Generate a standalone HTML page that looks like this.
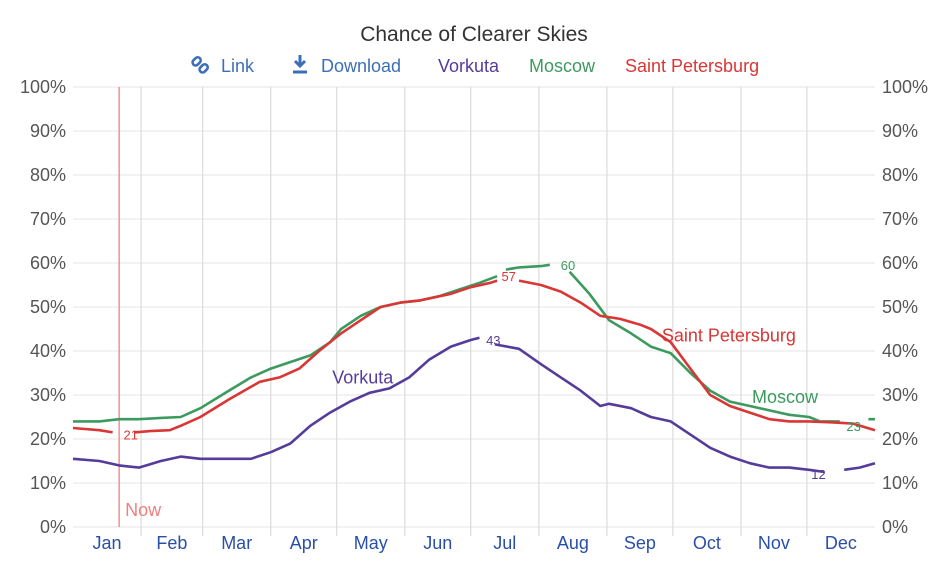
<!DOCTYPE html>
<html><head><meta charset="utf-8"><style>
body{margin:0;background:#fff;font-family:"Liberation Sans",sans-serif}
</style></head><body>
<svg id="chart" width="934" height="562" xmlns="http://www.w3.org/2000/svg" font-family="Liberation Sans, sans-serif">
<text x="474" y="41" text-anchor="middle" font-size="21" fill="#333">Chance of Clearer Skies</text>
<g>
<g fill="none" stroke="#3d6fb8" stroke-width="2.6"><rect x="192" y="58" width="9" height="6" rx="3" transform="rotate(-45 197 61)"/><rect x="199" y="65" width="9" height="6" rx="3" transform="rotate(-45 204 68)"/></g>
<text x="221" y="72" font-size="18" fill="#3d6fb8">Link</text></g>
<g>
<path d="M300 55v11M295 61l5 5 5-5M293 72h14" stroke="#3d6fb8" stroke-width="3" fill="none"/>
<text x="321" y="72" font-size="18" fill="#3d6fb8">Download</text></g>
<text x="438" y="72" font-size="18" fill="#553c9a">Vorkuta</text>
<text x="529" y="72" font-size="18" fill="#3c9a5f">Moscow</text>
<text x="625" y="72" font-size="18" fill="#d93636">Saint Petersburg</text>
<g id="grid"></g><g id="marks"></g>
</svg>
<script>
const monthNames=["Jan","Feb","Mar","Apr","May","Jun","Jul","Aug","Sep","Oct","Nov","Dec"];
const monthStarts=[0,31,59,90,120,151,181,212,243,273,304,334,365];
const yTicks=[0,10,20,30,40,50,60,70,80,90,100];
const nowDay=21;
const moscowDays=[0,12,21,30,40,49,58,71,81,90,99,108,117,122,131,140,149,158,167,176,185,193,null,197,203,213,217,null,226,235,244,254,263,272,281,290,299,308,317,326,335,340,349,null,362,365];
const moscowVals=[24,24,24.5,24.5,24.8,25,27,31,34,36,37.5,39,42,45,48,50,51,51.5,52.5,54,55.5,57,null,58.5,59,59.3,59.6,null,58,53,47,44,41,39.5,35,31,28.5,27.5,26.5,25.5,25,24,24,null,24.5,24.5];
const spbDays=[0,12,18,null,28,35,44,49,58,71,85,94,103,112,122,131,140,149,158,172,181,190,193,null,203,213,222,231,240,249,258,263,272,281,290,299,308,317,326,335,345,355,365];
const spbVals=[22.5,22,21.5,null,21.5,21.8,22,23,25,29,33,34,36,40,44,47,50,51,51.5,53,54.5,55.5,56,null,56,55,53.5,51,48,47.3,46,45,42,36,30,27.5,26,24.5,24,24,23.8,23.5,22];
const vorkutaDays=[0,12,21,30,40,49,58,71,81,90,99,108,117,126,135,144,153,162,172,181,185,null,192,203,213,222,231,240,244,254,263,272,281,290,299,308,317,326,335,342,null,351,358,365];
const vorkutaVals=[15.5,15,14,13.5,15,16,15.5,15.5,15.5,17,19,23,26,28.5,30.5,31.5,34,38,41,42.5,43,null,41.5,40.5,37,34,31,27.5,28,27,25,24,21,18,16,14.5,13.5,13.5,13,12.5,null,13,13.5,14.5];
const labels=[{t:"21",d:23,v:21,c:"#d93636",s:13},{t:"57",d:195,v:57,c:"#d93636",s:13},{t:"60",d:222,v:59.5,c:"#3c9a5f",s:13},{t:"43",d:188,v:42.5,c:"#553c9a",s:13},{t:"12",d:336,v:12,c:"#553c9a",s:13},{t:"23",d:352,v:23,c:"#3c9a5f",s:13},
{t:"Saint Petersburg",d:268,v:43.5,c:"#d93636",s:18},{t:"Moscow",d:309,v:29.5,c:"#3c9a5f",s:18},{t:"Vorkuta",d:118,v:34,c:"#553c9a",s:18}];
const X0=73,X1=875,Y0=527,Y1=87;
const xs=d=>X0+d*(X1-X0)/365, ys=v=>Y0-v*(Y0-Y1)/100;
const NS="http://www.w3.org/2000/svg";
const grid=document.getElementById('grid'),marks=document.getElementById('marks');
function mk(tag,attrs,parent){const e=document.createElementNS(NS,tag);for(const k in attrs)e.setAttribute(k,attrs[k]);parent.appendChild(e);return e;}
yTicks.forEach(t=>{
 const l=mk('line',{x1:X0,x2:X1,y1:ys(t),y2:ys(t),stroke:'#e6e6e6','stroke-width':1},grid);
 
 
 [[66,'end'],[882,'start']].forEach(([x,a])=>{
  const tx=mk('text',{x:x,y:ys(t)+6,'text-anchor':a,'font-size':18,fill:'#555'},grid);tx.textContent=t+'%';
  
  
 });
});
monthStarts.slice(1,12).forEach(d=>{
 const l=mk('line',{x1:xs(d),x2:xs(d),y1:Y1,y2:Y0+9,stroke:'#ddd','stroke-width':1.3},grid);
 
 
});
monthNames.forEach((m,i)=>{
 const tx=mk('text',{x:xs((monthStarts[i]+monthStarts[i+1])/2),y:549,'text-anchor':'middle','font-size':18,fill:'#2a4fa8'},grid);tx.textContent=m;
 
 
});
const nl=mk('line',{x1:xs(nowDay),x2:xs(nowDay),y1:Y1,y2:Y0,stroke:'#f08080','stroke-width':1.3},marks);


const nt=mk('text',{x:xs(nowDay)+6,y:516,'font-size':18,fill:'#f08080'},marks);nt.textContent='Now';


function series(days,vals,color,name){
 let d='',pen=false;
 days.forEach((dy,i)=>{if(dy===null||vals[i]===null){pen=false;return;}d+=(pen?'L':'M')+xs(dy).toFixed(1)+' '+ys(vals[i]).toFixed(1);pen=true;});
 const p=mk('path',{d:d,fill:'none',stroke:color,'stroke-width':2.6,'stroke-linejoin':'round'},marks);
 
 
}
series(moscowDays,moscowVals,'#3c9a5f','moscow-line');
series(spbDays,spbVals,'#d93636','saint-petersburg-line');
series(vorkutaDays,vorkutaVals,'#553c9a','vorkuta-line');
labels.forEach(l=>{
 const tx=mk('text',{x:xs(l.d),y:ys(l.v)+(l.s>15?6:5),'font-size':l.s,fill:l.c},marks);tx.textContent=l.t;
 
 
});
</script>
</body></html>
